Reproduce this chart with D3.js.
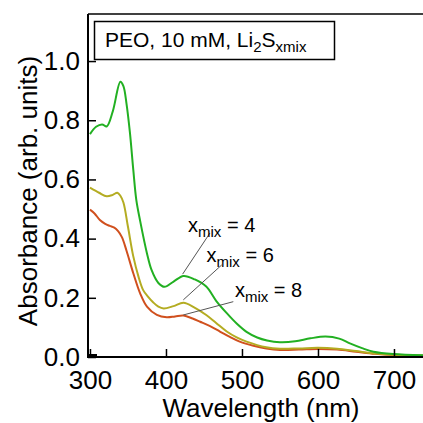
<!DOCTYPE html>
<html><head><meta charset="utf-8">
<script src="https://cdn.jsdelivr.net/npm/d3@7"></script>
<style>body{margin:0;background:#fff}svg{display:block}text{font-family:"Liberation Sans",Arial,sans-serif;fill:#000}</style>
</head><body><svg id="c" width="423" height="423"></svg>
<script>
const wlGreen = [300,308,316,322,330,340,344,348,352.6,357,361,366,375,381,390,398,410,423,438,453,466,480,493,506,520,533,550,570,590,610,628,642,658,673,699,740];
const absGreen = [0.753,0.778,0.786,0.779,0.83,0.93,0.915,0.857,0.757,0.632,0.53,0.46,0.35,0.294,0.25,0.237,0.255,0.274,0.262,0.238,0.19,0.148,0.113,0.085,0.066,0.056,0.05,0.053,0.063,0.069,0.062,0.046,0.03,0.018,0.01,0.006];
const wlYellow = [300,312,322,330,336,340,344,350,357,364,370,376,383,390,397,410,423,437,453,466,480,493,506,532,550,575,600,625,650,675,700,740];
const absYellow = [0.572,0.555,0.543,0.548,0.555,0.545,0.522,0.44,0.34,0.27,0.226,0.205,0.185,0.17,0.164,0.172,0.183,0.168,0.142,0.115,0.086,0.066,0.052,0.033,0.028,0.029,0.031,0.028,0.02,0.012,0.008,0.005];
const wlRed = [300,306,313,320,326,332,337,342,348,357,366,375,388,401,412,423,435,445,458,471,484,497,515,532,550,575,600,625,650,675,700,740];
const absRed = [0.498,0.485,0.463,0.45,0.443,0.437,0.425,0.405,0.36,0.283,0.215,0.17,0.142,0.134,0.137,0.14,0.13,0.119,0.104,0.086,0.068,0.052,0.038,0.029,0.024,0.025,0.027,0.025,0.018,0.011,0.007,0.004];
const xTicks = [300,400,500,600,700];
const yTicks = [0,0.2,0.4,0.6,0.8,1.0];
const seriesNames = ["4","6","8"];
const seriesColors = ["#22b022","#b4ac22","#d0501e"];

const svg = d3.select("#c");
const L = 88, T = 14, B = 357, R = 423;
const x = d3.scaleLinear().domain([297.4, 740]).range([L, L + 442.6*0.76]);
const y = d3.scaleLinear().domain([0, 1.159]).range([B, T]);

svg.append("rect").attr("width",423).attr("height",423).attr("fill","#fff");
svg.append("defs").append("clipPath").attr("id","clip").append("rect")
  .attr("x",L).attr("y",T).attr("width",R-L).attr("height",B-T);

const series = [
  {wl: wlGreen, a: absGreen},
  {wl: wlYellow, a: absYellow},
  {wl: wlRed, a: absRed}
];
const line = d3.line().x(d=>x(d[0])).y(d=>y(d[1])).curve(d3.curveCatmullRom.alpha(0.5));
const g = svg.append("g").attr("clip-path","url(#clip)");
series.slice().reverse().forEach((s,i)=>{
  const idx = 2-i;
  g.append("path").attr("d", line(s.wl.map((w,k)=>[w,s.a[k]])))
    .attr("fill","none").attr("stroke",seriesColors[idx]).attr("stroke-width",2);
});

// axes
const xa = svg.append("g").attr("transform",`translate(0,${B})`)
  .call(d3.axisBottom(x).tickValues(xTicks).tickSizeInner(-8).tickSizeOuter(0).tickPadding(14).tickFormat(d3.format("d")));
const ya = svg.append("g").attr("transform",`translate(${L},0)`)
  .call(d3.axisLeft(y).tickValues(yTicks).tickSizeInner(-8).tickSizeOuter(0).tickPadding(8).tickFormat(d3.format(".1f")));
[xa,ya].forEach(a=>{
  a.select(".domain").remove();
  a.selectAll("line").attr("stroke","#000").attr("stroke-width",1.5);
  a.selectAll("text").attr("font-size",26).attr("font-family","Liberation Sans, Arial, sans-serif").attr("fill","#000");
});
// spines
svg.append("path").attr("d",`M${L},${T}V${B}H${R}`).attr("fill","none").attr("stroke","#000").attr("stroke-width",2);
svg.append("path").attr("d",`M${L},${T}H${R}`).attr("fill","none").attr("stroke","#000").attr("stroke-width",1.5);
svg.append("rect").attr("x",L).attr("y",B-3).attr("width",9).attr("height",3).attr("fill","#000");

// axis titles
svg.append("text").attr("x",261).attr("y",417).attr("text-anchor","middle").attr("font-size",26).text("Wavelength (nm)");
svg.append("text").attr("transform","translate(37,191) rotate(-90)").attr("text-anchor","middle").attr("font-size",26).text("Absorbance (arb. units)");

// legend box
svg.append("rect").attr("x",94.5).attr("y",21.5).attr("width",240).attr("height",38).attr("fill","#fff").attr("stroke","#000").attr("stroke-width",1.5);
const lt = svg.append("text").attr("x",105).attr("y",47).attr("font-size",21);
lt.append("tspan").text("PEO, 10 mM, Li");
lt.append("tspan").attr("font-size",15).attr("dy",5).text("2");
lt.append("tspan").attr("dy",-5).text("S");
lt.append("tspan").attr("font-size",15).attr("dy",5).text("xmix");

// annotations (data coordinates)
const annText = [[429,0.422],[453.4,0.32],[490.8,0.204]];
const annFrom = [[457.9,0.419],[473.3,0.311],[488.6,0.187]];
const annTo = [[421.9,0.28],[422.8,0.193],[422.8,0.142]];
seriesNames.forEach((n,i)=>{
  svg.append("line").attr("x1",x(annFrom[i][0])).attr("y1",y(annFrom[i][1]))
    .attr("x2",x(annTo[i][0])).attr("y2",y(annTo[i][1])).attr("stroke","#555").attr("stroke-width",1);
  const t = svg.append("text").attr("x",x(annText[i][0])).attr("y",y(annText[i][1])).attr("font-size",20);
  t.append("tspan").text("x");
  t.append("tspan").attr("font-size",15).attr("dy",5).text("mix");
  t.append("tspan").attr("dy",-5).text(" = " + n);
});
</script></body></html>
